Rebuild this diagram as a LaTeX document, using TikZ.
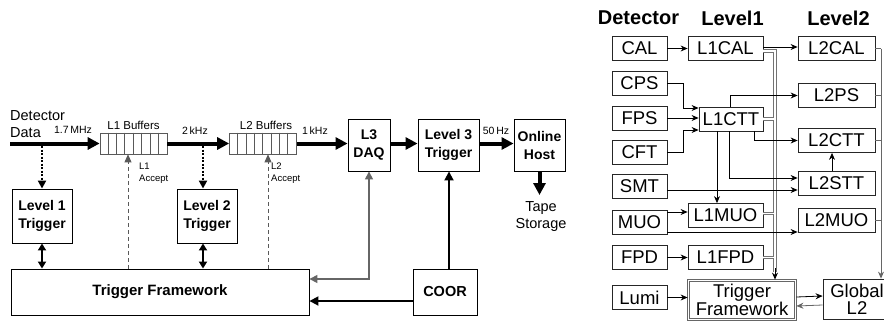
\documentclass[tikz,border=0pt]{standalone}
\usepackage{fontspec}
\setmainfont{Liberation Sans}
\usetikzlibrary{arrows.meta,calc}
\begin{document}
\begin{tikzpicture}[x=1pt,y=-1pt,
  lbox/.style={draw,line width=0.9pt,inner sep=0pt,align=center,font=\bfseries\fontsize{14}{18}\selectfont},
  rbox/.style={draw=black!85,line width=0.8pt,inner sep=0pt,minimum height=24pt,font=\fontsize{18.5}{16}\selectfont},
  lbl/.style={inner sep=0pt,align=center},
  bigtxt/.style={lbl,font=\fontsize{14.5}{17}\selectfont},
  ratetxt/.style={lbl,font=\fontsize{10.5}{12}\selectfont},
  buftxt/.style={lbl,font=\fontsize{11.5}{13}\selectfont},
  acctxt/.style={lbl,align=left,anchor=west,font=\fontsize{9.5}{12}\selectfont},
  hdr/.style={lbl,font=\bfseries\fontsize{20}{22}\selectfont},
  bufbox/.style={draw=black!65,line width=0.7pt,minimum width=67pt,minimum height=21pt,inner sep=0pt},
  cell/.style={draw=black!65,line width=0.6pt},
  big/.style={line width=4pt,-{Triangle[length=12pt,width=12pt]}},
  dotarr/.style={line width=2pt,dash pattern=on 2pt off 1.5pt,-{Triangle[length=8pt,width=8pt]}},
  dasharr/.style={draw=black!65,line width=0.8pt,dash pattern=on 4pt off 3pt,-{Triangle[length=8pt,width=7pt]}},
  dblarr/.style={line width=2.5pt,{Triangle[length=7pt,width=8pt]}-{Triangle[length=7pt,width=8pt]}},
  medarr/.style={line width=1.8pt,-{Triangle[length=9pt,width=9pt]}},
  grayarr/.style={draw=black!60,line width=1.6pt,{Triangle[length=8pt,width=8pt]}-{Triangle[length=8pt,width=8pt]}},
  thin/.style={line width=0.8pt,-{Stealth[length=7pt,width=6pt]}},
  thingray/.style={draw=black!60,line width=0.8pt},
  busout/.style={draw=black!55,line width=3.8pt},
  busin/.style={draw=white,line width=1.9pt},
  frame/.style={draw=black!60,line width=0.8pt}]
\useasboundingbox (0,0) rectangle (884,322);

% ---------------- left diagram ----------------
\node[bigtxt,align=left,anchor=west] (ddata) at (10,124) {Detector\\Data};
\node[ratetxt] (r1) at (73,130) {1.7\,MHz};
\node[bufbox] (buf1) at (133.5,143.5) {};
\foreach \i in {1,...,7} \draw[cell] ([xshift={\i*8.375}]buf1.north west) -- ([xshift={\i*8.375}]buf1.south west);
\node[buftxt] (b1t) at (133.5,125) {L1 Buffers};
\node[ratetxt] (r2) at (195,131) {2\,kHz};
\node[bufbox] (buf2) at (263,143.5) {};
\foreach \i in {1,...,7} \draw[cell] ([xshift={\i*8.375}]buf2.north west) -- ([xshift={\i*8.375}]buf2.south west);
\node[buftxt] (b2t) at (266,125) {L2 Buffers};
\node[ratetxt] (r3) at (315,131) {1\,kHz};
\node[lbox,minimum width=42pt,minimum height=52pt] (daq) at (369,145) {L3\\DAQ};
\node[lbox,minimum width=61pt,minimum height=52pt] (l3t) at (448.5,145) {Level 3\\Trigger};
\node[ratetxt] (r4) at (496,131) {50\,Hz};
\node[lbox,minimum width=51pt,minimum height=52pt] (oh) at (539.5,145) {Online\\Host};
\node[bigtxt] (tape) at (541,217) {Tape\\Storage};
\node[lbox,minimum width=60pt,minimum height=54pt] (l1t) at (42,216) {Level 1\\Trigger};
\node[lbox,minimum width=60pt,minimum height=54pt] (l2t) at (207,216) {Level 2\\Trigger};
\node[lbox,minimum width=298pt,minimum height=46pt,font=\bfseries\fontsize{15}{18}\selectfont] (tf) at (160,292) {Trigger Framework};
\node[lbox,minimum width=64pt,minimum height=46pt,font=\bfseries\fontsize{14.5}{18}\selectfont] (coor) at (445,292) {COOR};
\node[acctxt] (a1) at (139,173) {L1\\Accept};
\node[acctxt] (a2) at (271,173) {L2\\Accept};

\coordinate (in) at (10,143.5);
\coordinate (tapeend) at (539.5,195);
\coordinate (tap1) at (42,146);
\coordinate (tap2) at (203,146);
\draw[big] (in) -- (buf1.west);
\draw[big] (buf1.east) -- (buf2.west);
\draw[big] (buf2.east) -- (daq.west |- buf2.east);
\draw[big] (daq.east |- buf2.east) -- (l3t.west |- buf2.east);
\draw[big] (l3t.east |- buf2.east) -- (oh.west |- buf2.east);
\draw[big] (oh.south) -- (tapeend);
\draw[dotarr] (tap1) -- (l1t.north -| tap1);
\draw[dotarr] (tap2) -- (l2t.north -| tap2);
\draw[dasharr] (tf.north -| 128,0) -- (buf1.south -| 128,0);
\draw[dasharr] (tf.north -| 268,0) -- (buf2.south -| 268,0);
\draw[dblarr] (l1t.south -| tap1) -- (tf.north -| tap1);
\draw[dblarr] (l2t.south -| tap2) -- (tf.north -| tap2);
\draw[grayarr] (daq.south) |- ([yshift=13pt]tf.east);
\draw[medarr] ([yshift=-9pt]coor.west) -- ([yshift=-9pt]tf.east);
\draw[medarr] (coor.north -| 449,0) -- (l3t.south -| 449,0);

% ---------------- right diagram ----------------
\node[hdr] (hdet) at (638.5,18) {Detector};
\node[hdr] (hl1) at (732.5,18) {Level1};
\node[hdr] (hl2) at (838.5,18) {Level2};

\node[rbox,minimum width=55pt] (cal) at (639.5,48.5) {CAL};
\node[rbox,minimum width=55pt] (cps) at (639.5,83) {CPS};
\node[rbox,minimum width=55pt] (fps) at (639.5,118) {FPS};
\node[rbox,minimum width=55pt] (cft) at (639.5,152.5) {CFT};
\node[rbox,minimum width=55pt] (smt) at (639.5,186.5) {SMT};
\node[rbox,minimum width=55pt] (muo) at (639.5,222.5) {MUO};
\node[rbox,minimum width=55pt] (fpd) at (639.5,257.5) {FPD};
\node[rbox,minimum width=55pt] (lumi) at (639.5,297.5) {Lumi};

\node[rbox,minimum width=75pt] (l1cal) at (725.5,48.5) {L1CAL};
\node[rbox,minimum width=64pt] (l1ctt) at (731,119) {L1CTT};
\node[rbox,minimum width=75pt] (l1muo) at (725.5,215.5) {L1MUO};
\node[rbox,minimum width=75pt] (l1fpd) at (725.5,257.5) {L1FPD};
\node[rbox,draw=none,minimum width=108pt,minimum height=40pt,align=center] (rtf) at (742,300) {Trigger\\Framework};
\draw[frame] (rtf.north west) rectangle (rtf.south east);
\draw[frame] ([shift={(2.2pt,-2.2pt)}]rtf.north west) rectangle ([shift={(-2.2pt,2.2pt)}]rtf.south east);

\node[rbox,minimum width=77pt] (l2cal) at (836.5,48.5) {L2CAL};
\node[rbox,minimum width=77pt] (l2ps) at (836.5,95.5) {L2PS};
\node[rbox,minimum width=77pt] (l2ctt) at (836.5,140.5) {L2CTT};
\node[rbox,minimum width=77pt] (l2stt) at (836.5,183.5) {L2STT};
\node[rbox,minimum width=77pt] (l2muo) at (836.5,220.5) {L2MUO};
\node[rbox,minimum width=68pt,minimum height=40pt,align=center,font=\fontsize{18.5}{17}\selectfont] (gl2) at (857,299) {Global\\L2};

% bus to trigger framework
\draw[busout] ([yshift=-2.5pt]l1cal.east) -| (775,272)
  (l1ctt.east) -- (l1ctt.east -| 775,0)
  ([yshift=2pt]l1muo.east) -- ([yshift=2pt]l1muo.east -| 775,0)
  (l1fpd.east) -- (l1fpd.east -| 775,0);
\draw[busin] ([yshift=-2.5pt]l1cal.east) -| (775,272)
  (l1ctt.east) -- (l1ctt.east -| 775,0)
  ([yshift=2pt]l1muo.east) -- ([yshift=2pt]l1muo.east -| 775,0)
  (l1fpd.east) -- (l1fpd.east -| 775,0);
\coordinate (busend) at (775,268);
\draw[thin] (busend) -- (rtf.north -| busend);

\draw[thin] (cal) -- (l1cal);
\draw[thin] ([yshift=1.5pt]l1cal.east) -- ([yshift=1.5pt]l2cal.west);
\draw[thin] (cps.east) -- (683,83) -- (683,108) -- (l1ctt.west |- 683,108);
\draw[thin] (fps.east) -- (l1ctt.west |- fps.east);
\draw[thin] (cft.east) -- (683,152.5) -- (683,130) -- (l1ctt.west |- 683,130);
\draw[thin] (l1ctt.north -| 730,0) |- (l2ps.west);
\draw[thin] (l1ctt.south -| 754,0) |- (l2ctt.west);
\draw[thin] (l1ctt.south -| 729,0) |- ([yshift=5.5pt]l2stt.west);
\draw[thin] (l1ctt.south -| 717,0) -- (l1muo.north -| 717,0);
\draw[thin] ([yshift=-3.5pt]smt.east) -- ([yshift=-6.5pt]l2stt.west);
\draw[thin] ([yshift=10.5pt]muo.east) -- ([yshift=3.5pt]l1muo.west);
\draw[thin] ([yshift=-9.5pt]muo.east) -- ([yshift=-11.5pt]l2muo.west);
\draw[thin] (fpd) -- (l1fpd);
\draw[thin] (lumi.east) -- (rtf.west |- lumi.east);
\draw[thin] ([yshift=3pt]rtf.east) -- ([yshift=3pt]gl2.west);
\draw[thin,draw=black!60] ([yshift=-6pt]gl2.west) -- ([yshift=-6pt]rtf.east);
\draw[thin] (l2stt.north -| 832,0) -- (l2ctt.south -| 832,0);
\coordinate (rbus) at (881,48.5);
\draw[thingray] (l2cal.east) -- (rbus);
\draw[thingray] (l2ps.east) -- (l2ps.east -| rbus);
\draw[thingray] (l2ctt.east) -- (l2ctt.east -| rbus);
\draw[thingray] (l2muo.east) -- (l2muo.east -| rbus);
\draw[thin,draw=black!60] (rbus) -- (gl2.north -| rbus);
\end{tikzpicture}
\end{document}
